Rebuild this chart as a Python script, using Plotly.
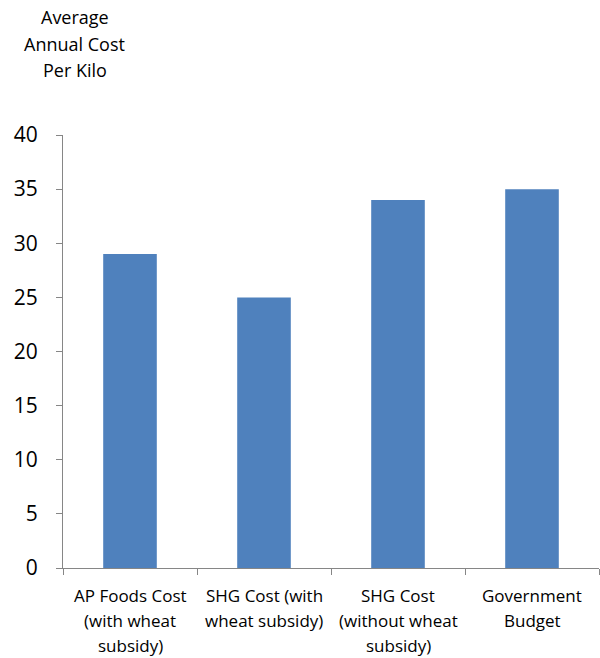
import plotly.graph_objects as go

categories = ["AP Foods Cost (with wheat subsidy)", "SHG Cost (with wheat subsidy)",
              "SHG Cost (without wheat subsidy)", "Government Budget"]
label_lines = [["AP Foods Cost", "(with wheat", "subsidy)"],
               ["SHG Cost (with", "wheat subsidy)"],
               ["SHG Cost", "(without wheat", "subsidy)"],
               ["Government", "Budget"]]
values = [29, 25, 34, 35]
y_ticks = [0, 5, 10, 15, 20, 25, 30, 35, 40]
title_lines = ["Average", "Annual Cost", "Per Kilo"]

fig = go.Figure(go.Bar(x=categories, y=values, marker=dict(color="#4F81BD", line=dict(width=0)),
                       width=0.4))

fig.update_layout(
    width=600, height=658,
    margin=dict(l=63, r=1, t=135, b=90),
    plot_bgcolor="white", paper_bgcolor="white",
    font=dict(family="Open Sans, Liberation Sans, sans-serif", color="#000000"),
    showlegend=False,
    bargap=0.6,
)
fig.update_yaxes(range=[0, 40], tickvals=y_ticks, showgrid=False, zeroline=False,
                 showline=True, linecolor="#868686", linewidth=1,
                 ticks="outside", ticklen=6, tickcolor="#868686",
                 tickfont=dict(size=21), ticklabelstandoff=14)
fig.update_xaxes(showgrid=False, showline=True, linecolor="#868686", linewidth=1,
                 ticks="outside", ticklen=6, tickcolor="#868686", tickson="boundaries",
                 showticklabels=False)
for cat, lines in zip(categories, label_lines):
    for j, line in enumerate(lines):
        ypix = 595 + j * 25
        fig.add_annotation(text=line, xref="x", yref="paper", x=cat,
                           y=(568 - ypix) / 433, xanchor="center", yanchor="middle",
                           showarrow=False, font=dict(size=17))
for i, line in enumerate(title_lines):
    ypix = 17 + i * 26.5
    fig.add_annotation(text=line, xref="paper", yref="paper",
                       x=(75 - 63) / 537, y=(568 - ypix) / 433, xanchor="center", yanchor="middle",
                       showarrow=False, font=dict(size=18))

fig.write_html("out.html")
